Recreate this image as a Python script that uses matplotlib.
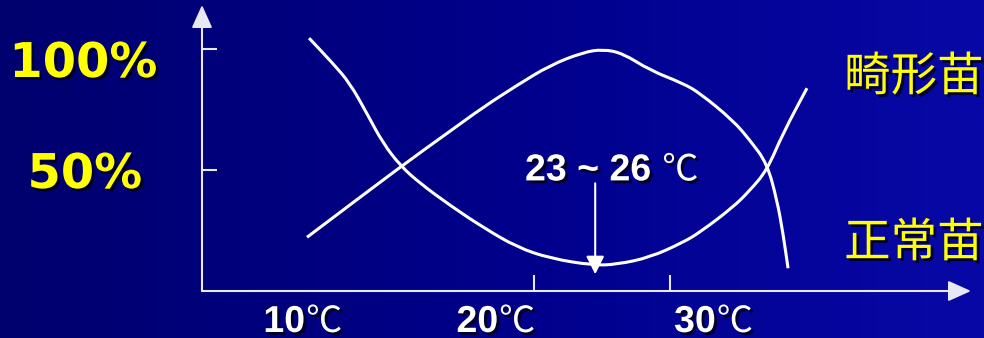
import numpy as np
import matplotlib
matplotlib.use('Agg')
import matplotlib.pyplot as plt
import matplotlib.patheffects as pe
from matplotlib.colors import LinearSegmentedColormap
from matplotlib.path import Path
from matplotlib.patches import PathPatch

# temperature (°C) vs share of seedlings (%)
temp_deformed = [3.46, 5.22, 6.47, 7.72, 8.90, 10.22, 11.62, 13.82, 16.25, 18.75,
                 21.18, 24.34, 26.10, 28.53, 30.96, 32.21, 34.63, 35.88, 37.13,
                 38.31, 40.07]
rate_deformed = [104.5, 94.0, 85.8, 73.3, 61.0, 51.5, 44.5, 35.4, 26.3, 18.1,
                 13.5, 10.6, 11.0, 13.9, 20.1, 24.3, 34.6, 41.6, 49.9, 65.2, 83.8]

temp_normal = [3.31, 10.22, 13.82, 16.25, 18.75, 21.18, 23.60, 25.07, 26.54,
               28.53, 30.96, 32.21, 34.63, 35.88, 37.13, 37.87, 38.31, 38.68]
rate_normal = [22.2, 51.5, 66.0, 75.9, 85.0, 93.3, 98.6, 99.9, 98.2, 91.2,
               85.8, 81.7, 70.5, 62.3, 52.8, 37.5, 23.8, 9.4]

x_ticks = [20, 30]
temp_labels = ['10', '20', '30']
y_ticks = [50, 100]
y_labels = ['50%', '100%']
optimum = (23, 26)
optimum_rate = (44.5, 6.9)
series_names = ['畸形苗', '正常苗']

AXIS_COLOR = '#e8e8f2'
shadow = [pe.withSimplePatchShadow(offset=(2, -2), shadow_rgbFace='black', alpha=0.7)]


def smooth_path(xs, ys):
    # quadratic bezier pieces through the midpoints, points act as controls
    pts = np.column_stack([xs, ys])
    mids = (pts[:-1] + pts[1:]) / 2
    verts = [pts[0], mids[0]]
    codes = [Path.MOVETO, Path.LINETO]
    for i in range(1, len(pts) - 1):
        verts += [pts[i], mids[i]]
        codes += [Path.CURVE3, Path.CURVE3]
    verts.append(pts[-1])
    codes.append(Path.LINETO)
    return Path(verts, codes)


fig = plt.figure(figsize=(9.84, 3.38), dpi=100)

# blue slide background
bg = fig.add_axes([0, 0, 1, 1])
cmap = LinearSegmentedColormap.from_list('slide', ['#00006e', '#00008a', '#0808a6'])
bg.imshow(np.linspace(0, 1, 256)[None, :], cmap=cmap, aspect='auto', extent=[0, 1, 0, 1])
bg.axis('off')

ax = fig.add_axes([202 / 984, 47 / 338, 769 / 984, 286 / 338])
ax.patch.set_alpha(0)
ax.set_xlim(20 - 332 / 13.6, 20 + 437 / 13.6)
ax.set_ylim(0, 286 / 2.42)
for s in ax.spines.values():
    s.set_visible(False)

# axes with arrow heads
for end in [(0, 1), (1, 0)]:
    ax.annotate('', xy=end, xytext=(0, 0), xycoords='axes fraction',
                arrowprops=dict(arrowstyle='-|>,head_length=1.0,head_width=0.45',
                                mutation_scale=14, color=AXIS_COLOR, lw=1.5,
                                shrinkA=0, shrinkB=0))

ax.set_xticks(x_ticks)
ax.set_yticks(y_ticks)
ax.tick_params(axis='x', direction='in', length=11.5, width=1.5, color=AXIS_COLOR,
               labelbottom=False)
ax.tick_params(axis='y', direction='in', length=10.8, width=1.5, color=AXIS_COLOR,
               labelleft=False)

for xs, ys in [(temp_deformed, rate_deformed), (temp_normal, rate_normal)]:
    ax.add_patch(PathPatch(smooth_path(xs, ys), facecolor='none', edgecolor='white',
                           lw=2.2, capstyle='butt'))

# y labels
for label, yv, dx, dy in zip(y_labels, y_ticks, [-60, -45], [-18, -28]):
    ax.annotate(label, xy=(0, yv), xycoords=('axes fraction', 'data'),
                xytext=(dx, dy), textcoords='offset pixels', ha='right', va='baseline',
                color='#ffff00', fontsize=34.5, fontweight='bold', family='DejaVu Sans',
                path_effects=shadow, annotation_clip=False)


def celsius_text(x, y, digits, dx=0, dy=0):
    t = ax.annotate(digits, xy=(x, y), xytext=(dx, dy), textcoords='offset pixels',
                    ha='left', va='baseline', color='white', fontsize=27,
                    fontweight='bold', family='Liberation Sans',
                    path_effects=shadow, annotation_clip=False)
    ax.annotate('℃', xy=(1, 0), xycoords=t, xytext=(1, 0), textcoords='offset pixels',
                ha='left', va='bottom', color='white', fontsize=26,
                family='Noto Sans CJK SC', path_effects=shadow, annotation_clip=False)
    return t


# x labels
for label, xl in zip(temp_labels, [0.1, 14.3, 30.3]):
    celsius_text(xl, 0, label, dy=-41)

# optimum temperature marker
opt_x = sum(optimum) / 2
ax.annotate('', xy=(opt_x, optimum_rate[1]), xytext=(opt_x, optimum_rate[0]),
            arrowprops=dict(arrowstyle='-|>,head_length=1.1,head_width=0.55',
                            mutation_scale=10, color='white', lw=1.5,
                            shrinkA=0, shrinkB=0))
celsius_text(19.34, 45.7, f'{optimum[0]} ~ {optimum[1]} ')

# curve names
for name, yv in zip(series_names, [88.3, 19.7]):
    ax.text(42.8, yv, name, ha='left', va='center', color='#ffff00', fontsize=33.5,
            family='Noto Sans CJK SC', path_effects=shadow, clip_on=False)

fig.savefig('out.png', dpi=100)
